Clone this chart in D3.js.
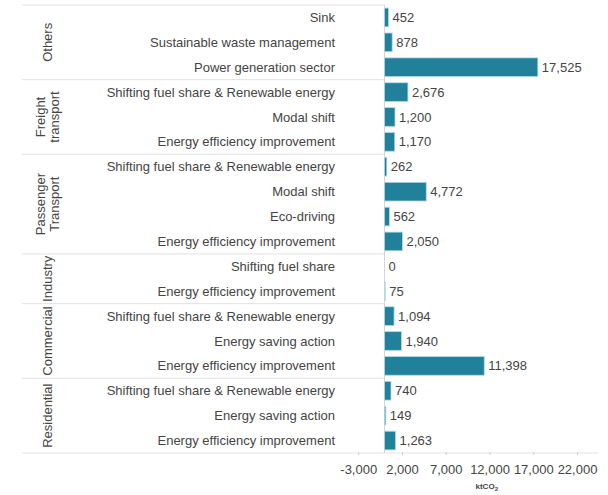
<!DOCTYPE html>
<html>
<head>
<meta charset="utf-8">
<script src="https://cdn.jsdelivr.net/npm/d3@7"></script>
<style>
  body { margin: 0; background: #fff; }
  text { font-family: "Liberation Sans", Arial, sans-serif; fill: #444; }
</style>
</head>
<body>
<svg id="chart" width="608" height="495"></svg>
<script>
// groups, top to bottom, with their row counts
var groups = [["Others"], ["Freight", "transport"], ["Passenger", "Transport"], ["Industry"], ["Commercial"], ["Residential"]];
var groupSizes = [3, 3, 4, 2, 3, 3];

var categories = [
  "Sink", "Sustainable waste management", "Power generation sector",
  "Shifting fuel share & Renewable energy", "Modal shift", "Energy efficiency improvement",
  "Shifting fuel share & Renewable energy", "Modal shift", "Eco-driving", "Energy efficiency improvement",
  "Shifting fuel share", "Energy efficiency improvement",
  "Shifting fuel share & Renewable energy", "Energy saving action", "Energy efficiency improvement",
  "Shifting fuel share & Renewable energy", "Energy saving action", "Energy efficiency improvement"
];
var values = [452, 878, 17525, 2676, 1200, 1170, 262, 4772, 562, 2050, 0, 75, 1094, 1940, 11398, 740, 149, 1263];
var tickVals = [-3000, 2000, 7000, 12000, 17000, 22000];
var axisTitle = "ktCO";

var svg = d3.select("#chart");
var plotTop = 5, plotBottom = 453, plotLeft = 22, plotRight = 598;
var fontSize = "13px";

var y = d3.scaleBand()
    .domain(d3.range(categories.length))
    .range([plotTop, plotBottom])
    .paddingInner(0.25)
    .paddingOuter(0.125);

var x = d3.scaleLinear()
    .domain([-5000, 24000])
    .range([340.75, 594.5]);

var fmt = d3.formatLocale({decimal: ".", thousands: ",", grouping: [3], currency: ["", ""], minus: "-"}).format(",");

// group separators
var starts = [0];
groupSizes.forEach(function(n, i) { starts.push(starts[i] + n); });
var step = y.step();
var rowTop = function(i) { return plotTop + i * step; };

svg.append("g").selectAll("line")
    .data(starts.slice(0, -1))
  .enter().append("line")
    .attr("x1", plotLeft).attr("x2", x(0))
    .attr("y1", function(d) { return rowTop(d); })
    .attr("y2", function(d) { return rowTop(d); })
    .attr("stroke", "#e2e2e2")
    .attr("stroke-width", 1);

// bottom line across the chart
svg.append("line")
    .attr("x1", plotLeft).attr("x2", plotRight)
    .attr("y1", plotBottom).attr("y2", plotBottom)
    .attr("stroke", "#e2e2e2");

// zero line
svg.append("line")
    .attr("x1", x(0)).attr("x2", x(0))
    .attr("y1", plotTop).attr("y2", plotBottom)
    .attr("stroke", "#d6d6d6");

// group labels
groups.forEach(function(lines, i) {
  var cy = (rowTop(starts[i]) + rowTop(starts[i + 1])) / 2;
  var g = svg.append("g")
      .attr("transform", "translate(47," + cy + ") rotate(-90)");
  lines.forEach(function(l, k) {
    g.append("text")
        .attr("x", 0)
        .attr("y", (k - (lines.length - 1) / 2) * 14)
        .attr("dy", "0.35em")
        .attr("text-anchor", "middle")
        .style("font-size", fontSize)
        .text(l);
  });
});

// category labels
svg.append("g").selectAll("text")
    .data(categories)
  .enter().append("text")
    .attr("x", 335)
    .attr("y", function(d, i) { return y(i) + y.bandwidth() / 2; })
    .attr("dy", "0.35em")
    .attr("text-anchor", "end")
    .style("font-size", fontSize)
    .text(function(d) { return d; });

// bars
svg.append("g").selectAll("rect")
    .data(values)
  .enter().append("rect")
    .attr("x", x(0))
    .attr("y", function(d, i) { return y(i); })
    .attr("width", function(d) { return x(d) - x(0); })
    .attr("height", y.bandwidth())
    .attr("fill", "#21809a")
    .attr("stroke", "#b4d7e0")
    .attr("stroke-width", 0.8);

// value labels
svg.append("g").selectAll("text")
    .data(values)
  .enter().append("text")
    .attr("x", function(d) { return x(d) + 4; })
    .attr("y", function(d, i) { return y(i) + y.bandwidth() / 2; })
    .attr("dy", "0.35em")
    .style("font-size", fontSize)
    .text(function(d) { return fmt(d); });

// x axis
var axis = svg.append("g")
    .attr("transform", "translate(0," + plotBottom + ")")
    .call(d3.axisBottom(x).tickValues(tickVals).tickSize(3).tickFormat(fmt));
axis.select(".domain").remove();
axis.selectAll(".tick line").attr("stroke", "#cfcfcf").attr("transform", "translate(0,-1)");
axis.selectAll(".tick text")
    .attr("y", 12)
    .style("font-size", fontSize)
    .style("font-family", "Liberation Sans, Arial, sans-serif")
    .attr("fill", "#444");

var t = svg.append("text")
    .attr("x", x(12000) - 14)
    .attr("y", 489)
    .style("font-size", "8px")
    .style("font-weight", "bold")
    .text(axisTitle);
t.append("tspan")
    .attr("dy", 2)
    .style("font-size", "6px")
    .text("2");
</script>
</body>
</html>
